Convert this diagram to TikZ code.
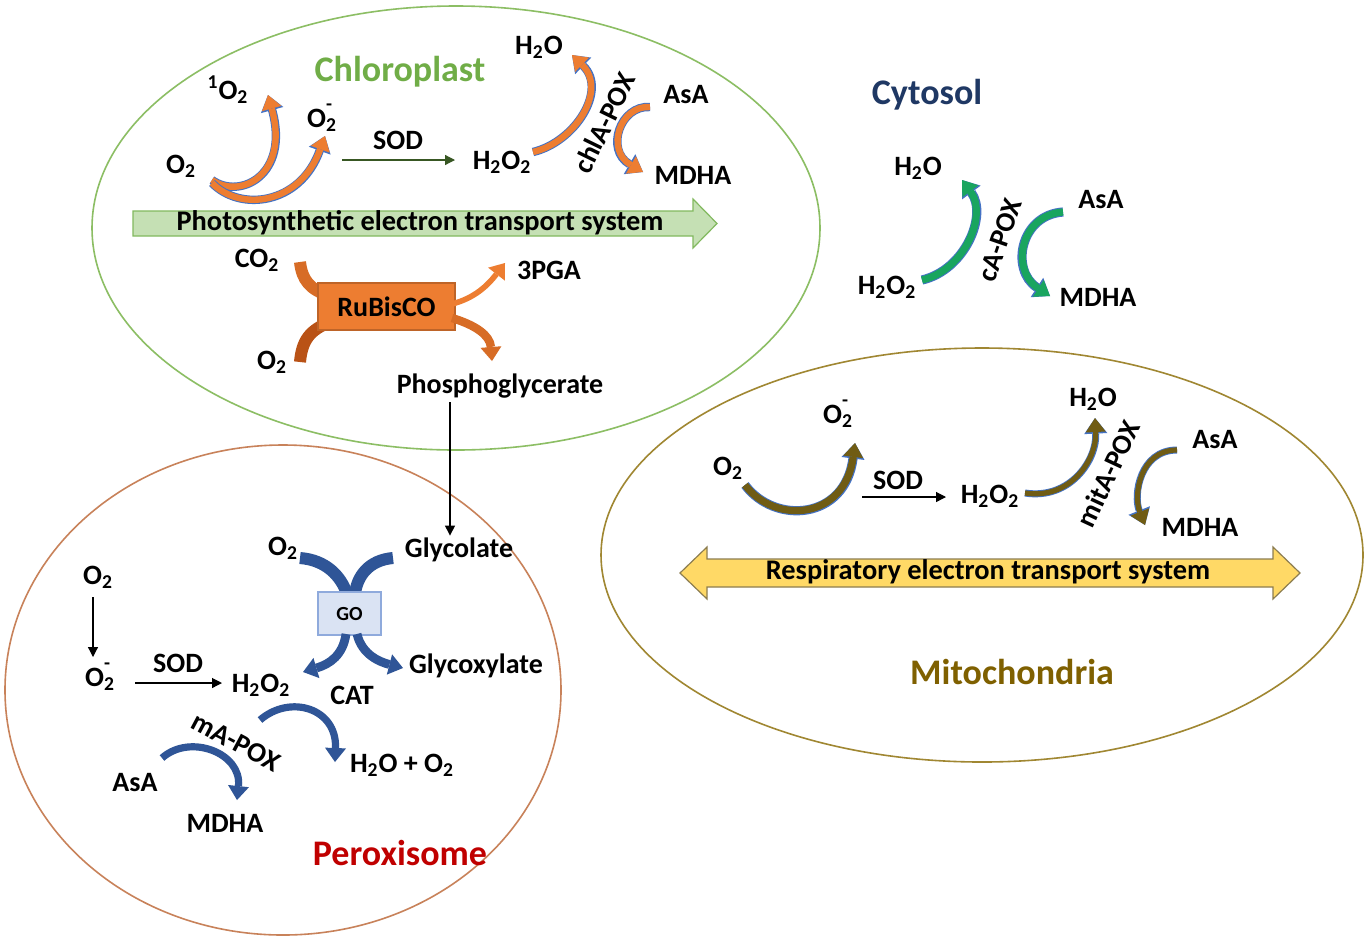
\documentclass[tikz,border=0pt]{standalone}
\usepackage{fontspec}
\setmainfont{Carlito}
\usetikzlibrary{arrows.meta}
\definecolor{chlGreen}{RGB}{112,173,71}
\definecolor{chlRing}{RGB}{140,190,100}
\definecolor{etcFill}{RGB}{197,224,180}
\definecolor{etcDraw}{RGB}{130,185,95}
\definecolor{orA}{RGB}{237,125,49}
\definecolor{orB}{RGB}{215,108,38}
\definecolor{orC}{RGB}{185,82,22}
\definecolor{rubDraw}{RGB}{190,100,40}
\definecolor{outBlue}{RGB}{68,114,196}
\definecolor{sodGreen}{RGB}{56,87,35}
\definecolor{cytNavy}{RGB}{31,56,100}
\definecolor{cytGreen}{RGB}{25,165,95}
\definecolor{mitOlive}{RGB}{127,96,0}
\definecolor{mitBand}{RGB}{112,92,20}
\definecolor{mitRing}{RGB}{160,135,50}
\definecolor{yelFill}{RGB}{255,217,102}
\definecolor{yelDraw}{RGB}{140,125,80}
\definecolor{perRing}{RGB}{200,130,90}
\definecolor{perRed}{RGB}{192,0,0}
\definecolor{perBlue}{RGB}{47,85,151}
\definecolor{goFill}{RGB}{218,227,243}
\definecolor{goDraw}{RGB}{143,170,220}
\newcommand{\Osup}{O\rlap{\raisebox{0.22em}{\textsuperscript{-}}}\textsubscript{2}}
\newcommand{\Otwo}{O\textsubscript{2}}
\newcommand{\Htwo}{H\textsubscript{2}O\textsubscript{2}}
\newcommand{\Hwat}{H\textsubscript{2}O}
\tikzset{
  lbl/.style={font=\fontsize{14}{16}\selectfont\bfseries, inner sep=1pt},
  ttl/.style={font=\fontsize{18}{21}\selectfont\bfseries, inner sep=1pt},
  etctext/.style={font=\fontsize{14.2}{16}\selectfont\bfseries, inner sep=1pt},
  rxn/.style={-{Triangle[length=5pt,width=5pt]}, line width=0.6pt},
  band/.style n args={4}{draw=#1, line width=#3,
    -{Triangle[length=7pt,width=10pt,line width=0pt]},
    preaction={draw=#2, line width=#4, -{Triangle[length=7.8pt,width=11.6pt,line width=0pt]}}},
  plainband/.style 2 args={draw=#1, line width=#2, -{Triangle[length=7pt,width=10.5pt,line width=0pt]}},
  ring/.style={line width=0.8pt},
}
\begin{document}
\begin{tikzpicture}[x=0.5pt,y=-0.5pt]
\useasboundingbox (0,0) rectangle (1368,938);
\fill[white] (0,0) rectangle (1368,938);

% ---------- rings ----------
\draw[ring, chlRing] (456,228) ellipse [x radius=364, y radius=222];
\draw[ring, perRing] (283,690) ellipse [x radius=278, y radius=245];
\draw[ring, mitRing] (982,555) ellipse [x radius=381, y radius=207];

% ---------- chloroplast ----------
\node[ttl, text=chlGreen] (chl) at (400,72) {Chloroplast};
\node[lbl] (c1o2) at (228,90) {\textsuperscript{1}\Otwo};
\node[lbl] (co2) at (181,166) {\Otwo};
\node[lbl] (co2m) at (322,118) {\Osup};
\node[lbl] (csod) at (398,140) {SOD};
\node[lbl] (ch2o2) at (502,162) {\Htwo};
\node[lbl] (ch2o) at (539,47) {\Hwat};
\node[lbl, rotate=64] (cpox) at (604,123) {chlA-POX};
\node[lbl] (casa) at (686,95) {AsA};
\node[lbl] (cmdha) at (693,175) {MDHA};
\coordinate (cs1) at (342,160);
\coordinate (cs2) at (455,160);
\draw[rxn, sodGreen] (cs1) -- (cs2);

\draw[band={orA}{outBlue}{3.2pt}{4.2pt}] (212,180) .. controls (240,200) and (290,175) .. (268,95);
\draw[band={orA}{outBlue}{3.2pt}{4.2pt}] (212,183) .. controls (240,212) and (300,205) .. (325,136);
\draw[band={orA}{outBlue}{3.2pt}{4.2pt}] (533,152) .. controls (575,142) and (608,90) .. (572,55);
\draw[band={orA}{outBlue}{3.2pt}{4.2pt}] (650,107) .. controls (620,105) and (605,150) .. (643,172);

% electron transport arrow
\draw[fill=etcFill, draw=etcDraw, line width=0.6pt]
  (133,211) -- (693,211) -- (693,199) -- (717,223.5) -- (693,248) -- (693,236) -- (133,236) -- cycle;
\node[etctext] (etc) at (420,223) {Photosynthetic electron transport system};

% RuBisCO
\node[lbl] (cco2) at (257,260) {CO\textsubscript{2}};
\node[lbl] (ro2) at (272,362) {\Otwo};
\draw[orB, line width=6pt] (300,262) .. controls (302,280) and (310,290) .. (330,296);
\draw[orC, line width=6pt] (300,362) .. controls (302,340) and (310,330) .. (330,322);
\node[draw=rubDraw, fill=orA, line width=0.6pt, minimum width=68.5pt, minimum height=23.5pt,
      font=\fontsize{14}{16}\selectfont\bfseries] (rub) at (386.5,306.5) {RuBisCO};
\draw[plainband={orA}{2.8pt}] (452,304) .. controls (475,298) and (488,285) .. (505,263);
\draw[plainband={orB}{4.2pt}] (452,318) .. controls (475,325) and (490,335) .. (492,361);
\node[lbl] (pga) at (549,270) {3PGA};
\node[lbl] (phos) at (500,386) {Phosphoglycerate};

% ---------- cytosol ----------
\node[ttl, text=cytNavy] (cyt) at (927,95) {Cytosol};
\node[lbl] (yh2o) at (918,168) {\Hwat};
\node[lbl] (yh2o2) at (887,287) {\Htwo};
\node[lbl, rotate=71] (ypox) at (1000,240) {cA-POX};
\node[lbl] (yasa) at (1101,200) {AsA};
\node[lbl] (ymdha) at (1098,297) {MDHA};
\draw[band={cytGreen}{outBlue}{3.6pt}{4.6pt}] (922,280) .. controls (965,270) and (988,215) .. (962,180);
\draw[band={cytGreen}{outBlue}{3.6pt}{4.6pt}] (1063,212) .. controls (1020,215) and (1010,270) .. (1050,296);

% ---------- mitochondria ----------
\node[ttl, text=mitOlive] (mit) at (1012,672) {Mitochondria};
\node[lbl] (mo2) at (728,468) {\Otwo};
\node[lbl] (mo2m) at (838,414) {\Osup};
\node[lbl] (msod) at (898,480) {SOD};
\node[lbl] (mh2o2) at (990,496) {\Htwo};
\node[lbl] (mh2o) at (1093,399) {\Hwat};
\node[lbl, rotate=65] (mpox) at (1108,474) {mitA-POX};
\node[lbl] (masa) at (1215,440) {AsA};
\node[lbl] (mmdha) at (1200,527) {MDHA};
\coordinate (ms1) at (862,497);
\coordinate (ms2) at (946,497);
\draw[rxn] (ms1) -- (ms2);
\draw[band={mitBand}{outBlue}{3.6pt}{4.6pt}] (745,485) .. controls (775,525) and (845,520) .. (855,443);
\draw[band={mitBand}{outBlue}{2.6pt}{3.5pt}] (1025,493) .. controls (1070,500) and (1097,460) .. (1095,418);
\draw[band={mitBand}{outBlue}{2.6pt}{3.5pt}] (1177,450) .. controls (1140,450) and (1133,495) .. (1145,525);
\draw[fill=yelFill, draw=yelDraw, line width=0.6pt]
  (680,573) -- (707,547) -- (707,559) -- (1273,559) -- (1273,547) -- (1300,573)
  -- (1273,599) -- (1273,587) -- (707,587) -- (707,599) -- cycle;
\node[etctext] (resp) at (988,572) {Respiratory electron transport system};

% ---------- peroxisome ----------
\node[ttl, text=perRed] (per) at (400,853) {Peroxisome};
\node[lbl] (po2) at (98,577) {\Otwo};
\node[lbl] (po2m) at (100,677) {\Osup};
\node[lbl] (psod) at (178,663) {SOD};
\node[lbl] (ph2o2) at (261,685) {\Htwo};
\node[lbl] (pgo2) at (283,548) {\Otwo};
\node[lbl] (glyc) at (459,550) {Glycolate};
\node[lbl] (glyx) at (476,666) {Glycoxylate};
\node[lbl] (cat) at (352,695) {CAT};
\node[lbl, rotate=-28] (ppox) at (236,742) {mA-POX};
\node[lbl] (pasa) at (135,783) {AsA};
\node[lbl] (pmdha) at (225,823) {MDHA};
\node[lbl] (pwat) at (402,765) {\Hwat{} + \Otwo};
\coordinate (pa1) at (93,597);
\coordinate (pa2) at (93,657);
\draw[rxn] (pa1) -- (pa2);
\coordinate (pb1) at (135,683);
\coordinate (pb2) at (222,683);
\draw[rxn] (pb1) -- (pb2);
\coordinate (pg1) at (450,402);
\draw[rxn] (pg1) -- (pg1 |- glyc.north);

\draw[perBlue, line width=6pt] (300,558) .. controls (326,560) and (341,576) .. (347,594);
\draw[perBlue, line width=6pt] (393,558) .. controls (369,560) and (357,576) .. (355,594);
\node[draw=goDraw, fill=goFill, line width=0.6pt, minimum width=31.5pt, minimum height=21.5pt,
      font=\fontsize{10}{12}\selectfont\bfseries] (go) at (349.5,613.5) {GO};
\draw[plainband={perBlue}{4.4pt}] (346,634) .. controls (343,655) and (330,664) .. (303,672);
\draw[plainband={perBlue}{4.4pt}] (357,634) .. controls (362,655) and (380,662) .. (403,668);
\draw[plainband={perBlue}{3.6pt}] (260,720) .. controls (290,694) and (337,708) .. (335,762);
\draw[plainband={perBlue}{3.6pt}] (162,758) .. controls (190,733) and (242,753) .. (237,800);
\end{tikzpicture}
\end{document}
